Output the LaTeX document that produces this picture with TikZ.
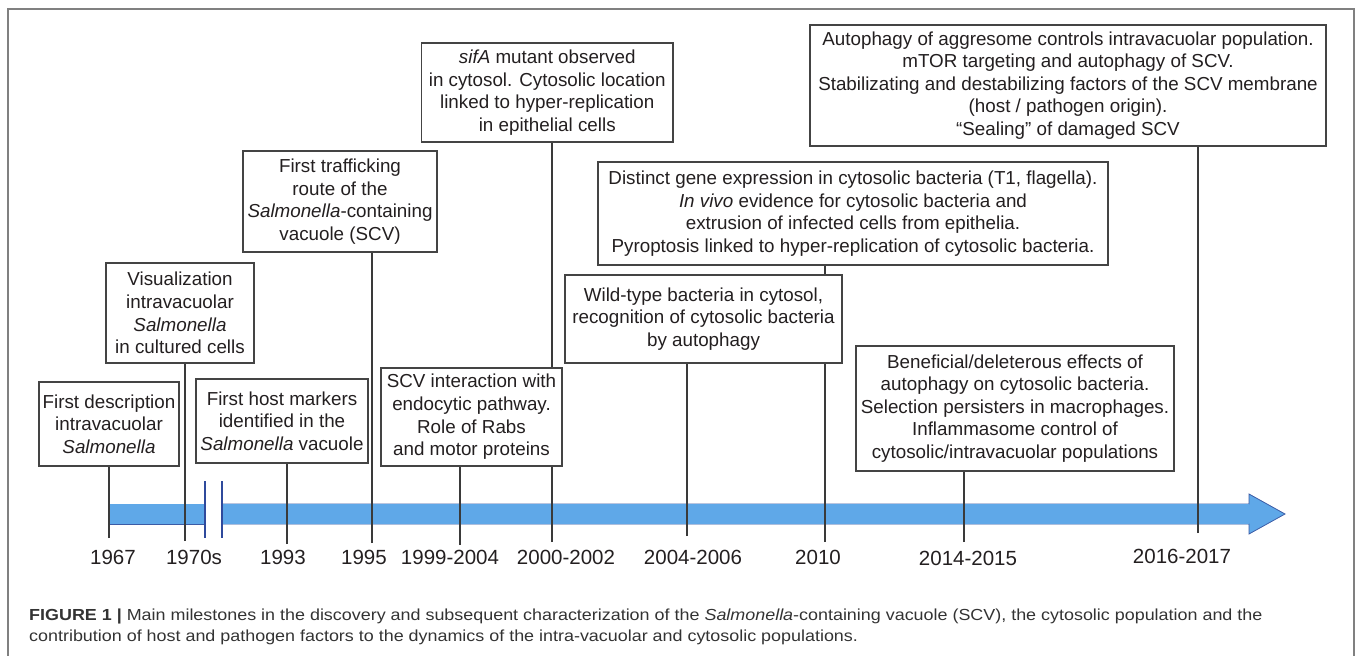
\documentclass[tikz,border=0pt]{standalone}
\usepackage{fontspec}
\setmainfont{Liberation Sans}
\newfontfamily\capfont[FakeStretch=1.12]{Liberation Sans}
\pgfdeclarelayer{back}
\pgfdeclarelayer{mid}
\pgfsetlayers{back,mid,main}
\definecolor{boxline}{HTML}{444444}
\definecolor{conn}{HTML}{3A3A3A}
\definecolor{arrfill}{HTML}{5FA8E8}
\definecolor{arrline}{HTML}{3B5BA5}
\definecolor{brk}{HTML}{2F4A9C}
\definecolor{framecol}{HTML}{808080}
\definecolor{captext}{HTML}{333333}
\definecolor{txt}{HTML}{231F20}
\tikzset{
  mbox/.style={draw=boxline, line width=1.3pt, fill=white, inner sep=0pt, align=center,
    font=\fontsize{18.8}{22.6}\selectfont, text=txt},
  conline/.style={draw=conn, line width=1.1pt},
  year/.style={font=\fontsize{20.5}{24}\selectfont, text=txt, inner sep=0pt},
}
\begin{document}
\begin{tikzpicture}[x=1pt,y=-1pt]
\useasboundingbox (0,0) rectangle (1358,656);
% frame
\draw[framecol, line width=1.5pt] (8,656) -- (8,9) -- (1354,9) -- (1354,656);

% boxes
\node[mbox, minimum width=140pt, minimum height=84pt] (b1) at (109,424)
  {First description\\intravacuolar\\\textit{Salmonella}};
\node[mbox, minimum width=148pt, minimum height=100pt] (b2) at (180,313)
  {Visualization\\intravacuolar\\\textit{Salmonella}\\in cultured cells};
\node[mbox, minimum width=172pt, minimum height=84pt] (b3) at (282,421)
  {First host markers\\identified in the\\\textit{Salmonella} vacuole};
\node[mbox, minimum width=194pt, minimum height=101pt] (b4) at (340,201.5)
  {First trafficking\\route of the\\\textit{Salmonella}-containing\\vacuole (SCV)};
\node[mbox, minimum width=251.5pt, minimum height=99pt] (b5) at (547.25,92.5)
  {\textit{sifA} mutant observed\\in cytosol. Cytosolic location\\linked to hyper-replication\\in epithelial cells};
\node[mbox, minimum width=181pt, minimum height=98pt] (b6) at (471.5,417)
  {SCV interaction with\\endocytic pathway.\\Role of Rabs\\and motor proteins};
\node[mbox, minimum width=277pt, minimum height=88pt] (b7) at (703.5,319)
  {Wild-type bacteria in cytosol,\\recognition of cytosolic bacteria\\by autophagy};
\node[mbox, minimum width=510pt, minimum height=103pt] (b8) at (853,213.5)
  {Distinct gene expression in cytosolic bacteria (T1, flagella).\\\textit{In vivo} evidence for cytosolic bacteria and\\extrusion of infected cells from epithelia.\\Pyroptosis linked to hyper-replication of cytosolic bacteria.};
\node[mbox, minimum width=318pt, minimum height=125pt] (b9) at (1015,408.5)
  {Beneficial/deleterous effects of\\autophagy on cytosolic bacteria.\\Selection persisters in macrophages.\\Inflammasome control of\\cytosolic/intravacuolar populations};
\node[mbox, minimum width=516pt, minimum height=121pt] (b10) at (1068,85.5)
  {Autophagy of aggresome controls intravacuolar population.\\mTOR targeting and autophagy of SCV.\\Stabilizating and destabilizing factors of the SCV membrane\\(host / pathogen origin).\\``Sealing'' of damaged SCV};

% tick ends
\coordinate (t1) at (109,538);
\coordinate (t2) at (185,541);
\coordinate (t3) at (287,544);
\coordinate (t4) at (372,543);
\coordinate (t5) at (460,545);
\coordinate (t6) at (552,542);
\coordinate (t7) at (687,536);
\coordinate (t8) at (825,542);
\coordinate (t9) at (964,542);
\coordinate (t10) at (1198,533);

% arrow
\begin{pgfonlayer}{back}
\filldraw[fill=arrfill, draw=arrline, line width=0.8pt] (205,504) -- (109,504) -- (109,524) -- (205,524);
\fill[arrfill] (109,504) rectangle (205,524);
\filldraw[fill=arrfill, draw=arrline, line width=0.8pt, line join=miter]
  (222,504) -- (1249,504) -- (1249,494) -- (1285,514) -- (1249,534) -- (1249,524) -- (222,524);
\fill[arrfill] (222,504) rectangle (1249,524);
\draw[brk, line width=1.5pt] (205,481) -- (205,538);
\draw[brk, line width=1.5pt] (222,481) -- (222,538);
\end{pgfonlayer}

% connectors
\begin{pgfonlayer}{mid}
\draw[conline] (t1) -- (t1 |- b1.south);
\draw[conline] (t2) -- (t2 |- b2.south);
\draw[conline] (t3) -- (t3 |- b3.south);
\draw[conline] (t4) -- (t4 |- b4.south);
\draw[conline] (t5) -- (t5 |- b6.south);
\draw[conline] (t6) -- (t6 |- b5.south);
\draw[conline] (t7) -- (t7 |- b7.south);
\draw[conline] (t8) -- (t8 |- b8.south);
\draw[conline] (t9) -- (t9 |- b9.south);
\draw[conline] (t10) -- (t10 |- b10.south);
\end{pgfonlayer}

% years
\node[year] (y1) at (113,557) {1967};
\node[year] (y2) at (194,557) {1970s};
\node[year] (y3) at (283,557) {1993};
\node[year] (y4) at (364,557) {1995};
\node[year] (y5) at (450,557) {1999-2004};
\node[year] (y6) at (566,557) {2000-2002};
\node[year] (y7) at (693,557) {2004-2006};
\node[year] (y8) at (818,557) {2010};
\node[year] (y9) at (968,558) {2014-2015};
\node[year] (y10) at (1182,556) {2016-2017};

% caption
\node[anchor=north west, inner sep=0pt, align=left, text=captext,
  font=\capfont\fontsize{16}{21}\selectfont] (cap) at (29,609)
  {\textbf{FIGURE 1 |} Main milestones in the discovery and subsequent characterization of the \textit{Salmonella}-containing vacuole (SCV), the cytosolic population and the\\contribution of host and pathogen factors to the dynamics of the intra-vacuolar and cytosolic populations.};
\end{tikzpicture}
\end{document}
